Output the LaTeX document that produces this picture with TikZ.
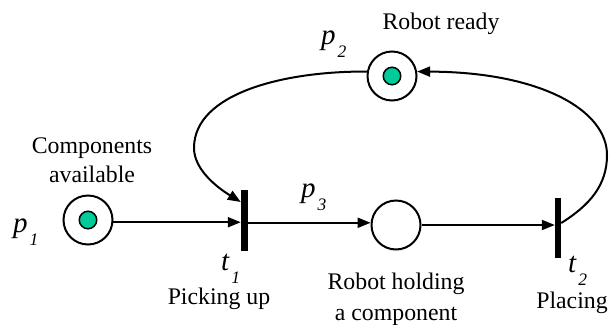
\documentclass[tikz,border=0pt]{standalone}
\usepackage{fontspec}
\setmainfont{Liberation Serif}
\usetikzlibrary{arrows.meta,calc}
\definecolor{tok}{RGB}{0,204,153}
\newcommand{\pnlbl}[2]{{\fontsize{29}{29}\selectfont\itshape #1}\kern2pt\raisebox{-13pt}{\fontsize{17.5}{17.5}\selectfont\itshape #2}}
\begin{document}
\begin{tikzpicture}[x=1pt,y=-1pt,
  place/.style={circle,draw,line width=2pt,minimum size=49pt,inner sep=0},
  token/.style={circle,draw,fill=tok,line width=1.5pt,minimum size=17.5pt,inner sep=0},
  trans/.style={rectangle,fill=black,minimum width=7pt,minimum height=61pt,inner sep=0},
  arc/.style={line width=2pt,-{Triangle[length=13pt,width=10pt]}},
  txt/.style={font=\fontsize{23.8}{23.8}\selectfont,anchor=base,inner sep=0},
  lab/.style={anchor=base west,inner sep=0}]
\useasboundingbox (0,0) rectangle (609,324);
\fill[white] (0,0) rectangle (609,324);
% places
\node[place] (p1) at (88,220) {};
\node[token] (k1) at (p1) {};
\node[place] (p2) at (392,76) {};
\node[token] (k2) at (p2) {};
\node[place] (p3) at (396,225) {};
% transitions
\node[trans] (t1) at (244.5,220.5) {};
\node[trans, minimum width=6pt, minimum height=60pt] (t2) at (558,228) {};
% helper coordinates
\coordinate (cR) at (607,155);
\coordinate (cL) at (194,148);
% arcs
\draw[arc] (p1.-5) -- (p1.-5 -| t1.west);
\draw[arc] (t1.east |- p3.175) -- (p3.175);
\draw[arc] (p3.east) -- (p3.east -| t2.west);
\draw[arc] ($(t2.east)+(0,-5)$) .. controls (590,205) and (607,185) .. (cR)
   .. controls (607,110) and (540,72) .. (p2.10);
\draw[arc] (p2.170) .. controls (285,71) and (194,93) .. (cL)
   .. controls (194,170) and (218,188) .. ($(t1.west)+(0,-18.5)$);
% texts
\node[txt] (l1a) at (92,153) {Components};
\node[txt] (l1b) at (92,182) {available};
\node[txt] (l2) at (441,29) {Robot ready};
\node[txt] (l3a) at (396,289) {Robot holding};
\node[txt] (l3b) at (396,320) {a component};
\node[txt] (l4) at (219,304) {Picking up};
\node[txt] (l5) at (572,308) {Placing};
% italic labels
\node[lab] (n1) at (13,232) {\pnlbl{p}{1}};
\node[lab] (n2) at (321,44) {\pnlbl{p}{2}};
\node[lab] (n3) at (301,197) {\pnlbl{p}{3}};
\node[lab] (n4) at (221,270) {\pnlbl{t}{1}};
\node[lab] (n5) at (568,272) {\pnlbl{t}{2}};
\end{tikzpicture}
\end{document}
